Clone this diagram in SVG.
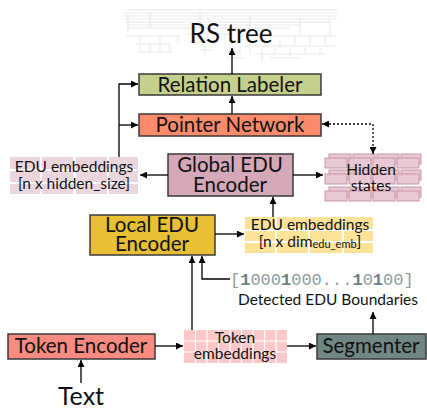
<svg xmlns="http://www.w3.org/2000/svg" width="427" height="409" viewBox="0 0 427 409">
<defs>
<marker id="ah" viewBox="0 0 10 10" refX="10" refY="5" markerWidth="7" markerHeight="7" markerUnits="userSpaceOnUse" orient="auto-start-reverse">
<path d="M0,0 L10,5 L0,10 z" fill="#000"/>
</marker>
</defs>
<style>
.box{stroke:#3a3a3a;stroke-width:1.5}
.t{font-family:Lato,"Open Sans",sans-serif;fill:#111;text-anchor:middle}
.big{font-size:20.5px}
.sm{font-size:15.5px}
.c{stroke:#000;stroke-width:1.3;fill:none;marker-end:url(#ah)}
.pk{fill:#ecd6de}
.yl{fill:#fde398}
.tk{fill:#fdc8c8}
.br{fill:#e8c8d4;stroke:#c996ab;stroke-width:1}
.tree{stroke:#dedede;stroke-width:0.7;fill:none}
.mono{font-family:"Liberation Mono","DejaVu Sans Mono",monospace;font-size:17px;fill:#8d9d9d}
.mono .b{font-weight:bold;fill:#6d8282}
</style>

<g id="rs-tree-bg">
<path class="tree" d="M124 10 H338 M124 13 H338 M124 16 H338 M124 19 H336 M126 22 H330 M128 25 H300 M128 28 H290"/>
<path class="tree" d="M128 14 V33 M150 12 V28 M200 12 V30 M250 16 V34 M300 18 V34 M330 20 V36"/>
<path class="tree" d="M126 36 H180 M140 36 V42 M160 36 V44 M178 36 V42 M136 44 H170 M140 44 V52 M150 44 V52 M160 44 V52 M170 44 V52 M138 52 H172"/>
<path class="tree" d="M186 34 H230 M195 34 V42 M210 34 V40 M225 34 V44 M190 42 H205 M205 44 V56 M200 50 H212"/>
<path class="tree" d="M240 36 H336 M250 38 V46 M265 36 V46 M280 38 V48 M295 36 V46 M310 36 V46 M325 36 V44 M245 46 H335 M250 48 V54 M262 48 V56 M275 48 V54 M290 48 V56 M305 48 V54 M320 48 V54 M255 54 H325 M262 56 V62 M270 58 H300 M240 46 V54 M228 50 V58 M232 58 H245"/>
</g>
<g id="rs-tree">
<text class="t" x="231" y="43" font-size="26">RS tree</text>
</g>

<g id="relation-labeler">
<rect class="box" x="139" y="74" width="182" height="21" fill="#c4d08c"/>
<text class="t big" x="230" y="92">Relation Labeler</text>
</g>
<g id="pointer-network">
<rect class="box" x="139" y="114" width="182" height="22" fill="#fc8b6c"/>
<text class="t big" x="230" y="132">Pointer Network</text>
</g>

<g id="edu-embeddings-global">
<rect class="pk" x="10" y="157" width="30" height="12"/><rect class="pk" x="42" y="157" width="31" height="12"/><rect class="pk" x="76" y="157" width="31" height="12"/><rect class="pk" x="109" y="157" width="29" height="12"/>
<rect class="pk" x="10" y="171" width="30" height="11"/><rect class="pk" x="42" y="171" width="31" height="11"/><rect class="pk" x="76" y="171" width="31" height="11"/><rect class="pk" x="109" y="171" width="29" height="11"/>
<rect class="pk" x="10" y="184" width="30" height="10"/><rect class="pk" x="42" y="184" width="31" height="10"/><rect class="pk" x="76" y="184" width="31" height="10"/><rect class="pk" x="109" y="184" width="29" height="10"/>
<text class="t sm" x="74" y="172" fill="#222">EDU embeddings</text>
<text class="t sm" x="74" y="189" fill="#222">[n x hidden_size]</text>
</g>

<g id="global-edu-encoder">
<rect class="box" x="168" y="154" width="125" height="42" fill="#d4a8b9"/>
<text class="t big" x="230" y="172">Global EDU</text>
<text class="t big" x="230" y="192">Encoder</text>
</g>

<g id="hidden-states">
<rect class="br" x="329" y="154" width="22" height="10"/><rect class="br" x="353" y="154" width="22" height="10"/><rect class="br" x="377" y="154" width="22" height="10"/><rect class="br" x="401" y="154" width="20" height="10"/>
<rect class="br" x="325" y="158" width="22" height="10"/><rect class="br" x="349" y="158" width="22" height="10"/><rect class="br" x="373" y="158" width="22" height="10"/><rect class="br" x="397" y="158" width="22" height="10"/>
<rect class="br" x="329" y="170" width="22" height="10"/><rect class="br" x="353" y="170" width="22" height="10"/><rect class="br" x="377" y="170" width="22" height="10"/><rect class="br" x="401" y="170" width="20" height="10"/>
<rect class="br" x="325" y="174" width="22" height="10"/><rect class="br" x="349" y="174" width="22" height="10"/><rect class="br" x="373" y="174" width="22" height="10"/><rect class="br" x="397" y="174" width="22" height="10"/>
<rect class="br" x="329" y="187" width="22" height="10"/><rect class="br" x="353" y="187" width="22" height="10"/><rect class="br" x="377" y="187" width="22" height="10"/><rect class="br" x="401" y="187" width="20" height="10"/>
<rect class="br" x="325" y="191" width="22" height="10"/><rect class="br" x="349" y="191" width="22" height="10"/><rect class="br" x="373" y="191" width="22" height="10"/><rect class="br" x="397" y="191" width="22" height="10"/>
<text class="t sm" x="371" y="175" fill="#333">Hidden</text>
<text class="t sm" x="371" y="191" fill="#333">states</text>
</g>

<g id="local-edu-encoder">
<rect class="box" x="90" y="215" width="125" height="40" fill="#e8bf35"/>
<text class="t big" x="152" y="232">Local EDU</text>
<text class="t big" x="152" y="251">Encoder</text>
</g>

<g id="edu-embeddings-local">
<rect class="yl" x="245" y="217" width="30" height="12"/><rect class="yl" x="277" y="217" width="31" height="12"/><rect class="yl" x="310" y="217" width="32" height="12"/><rect class="yl" x="344" y="217" width="29" height="12"/>
<rect class="yl" x="245" y="231" width="30" height="10"/><rect class="yl" x="277" y="231" width="31" height="10"/><rect class="yl" x="310" y="231" width="32" height="10"/><rect class="yl" x="344" y="231" width="29" height="10"/>
<rect class="yl" x="245" y="243" width="30" height="10"/><rect class="yl" x="277" y="243" width="31" height="10"/><rect class="yl" x="310" y="243" width="32" height="10"/><rect class="yl" x="344" y="243" width="29" height="10"/>
<text class="t sm" x="310" y="230" fill="#222">EDU embeddings</text>
<text class="t sm" x="310" y="247" fill="#222">[n x dim<tspan font-size="11" dy="1">edu_emb</tspan><tspan dy="-1">]</tspan></text>
</g>

<g id="edu-boundaries">
<text class="mono" x="230" y="285">[<tspan class="b">1</tspan>000<tspan class="b">1</tspan>000...<tspan class="b">1</tspan>0<tspan class="b">1</tspan>00]</text>
<text class="t sm" x="328" y="305" fill="#222">Detected EDU Boundaries</text>
</g>

<g id="token-encoder">
<rect class="box" x="8" y="334" width="147" height="25" fill="#f98b80"/>
<text class="t big" x="81" y="353">Token Encoder</text>
</g>

<g id="token-embeddings">
<rect class="tk" x="184" y="330" width="103" height="33"/>
<path d="M195.5 330 V363 M207 330 V363 M218.5 330 V363 M230 330 V363 M241.5 330 V363 M253 330 V363 M264.5 330 V363 M276 330 V363 M184 341 H287 M184 352 H287" stroke="#fff" stroke-width="1.2"/>
<text class="t sm" x="235" y="343" fill="#333">Token</text>
<text class="t sm" x="235" y="359" fill="#333">embeddings</text>
</g>

<g id="segmenter">
<rect class="box" x="317" y="334" width="109" height="25" fill="#6f8682"/>
<text class="t big" x="371" y="353">Segmenter</text>
</g>

<g id="text-input">
<text class="t" x="81" y="405" font-size="25">Text</text>
</g>

<g id="connectors">
<path class="c" d="M232 74 V48"/>
<path class="c" d="M232 114 V96"/>
<path class="c" d="M119 157 V84 H138"/>
<path class="c" d="M119 125 H138"/>
<path class="c" d="M168 175 H140"/>
<path class="c" d="M293 175 H323"/>
<path class="c" d="M373 154 V124 H322" stroke-dasharray="2 2" style="marker-start:url(#ah)"/>
<path class="c" d="M273 217 V197"/>
<path class="c" d="M215 234 H244"/>
<path class="c" d="M192 330 V256"/>
<path class="c" d="M230 279 H202 V256" stroke="#444"/>
<path class="c" d="M155 346 H183"/>
<path class="c" d="M287 346 H316"/>
<path class="c" d="M373 334 V312"/>
<path class="c" d="M81 383 V360"/>
</g>
</svg>
